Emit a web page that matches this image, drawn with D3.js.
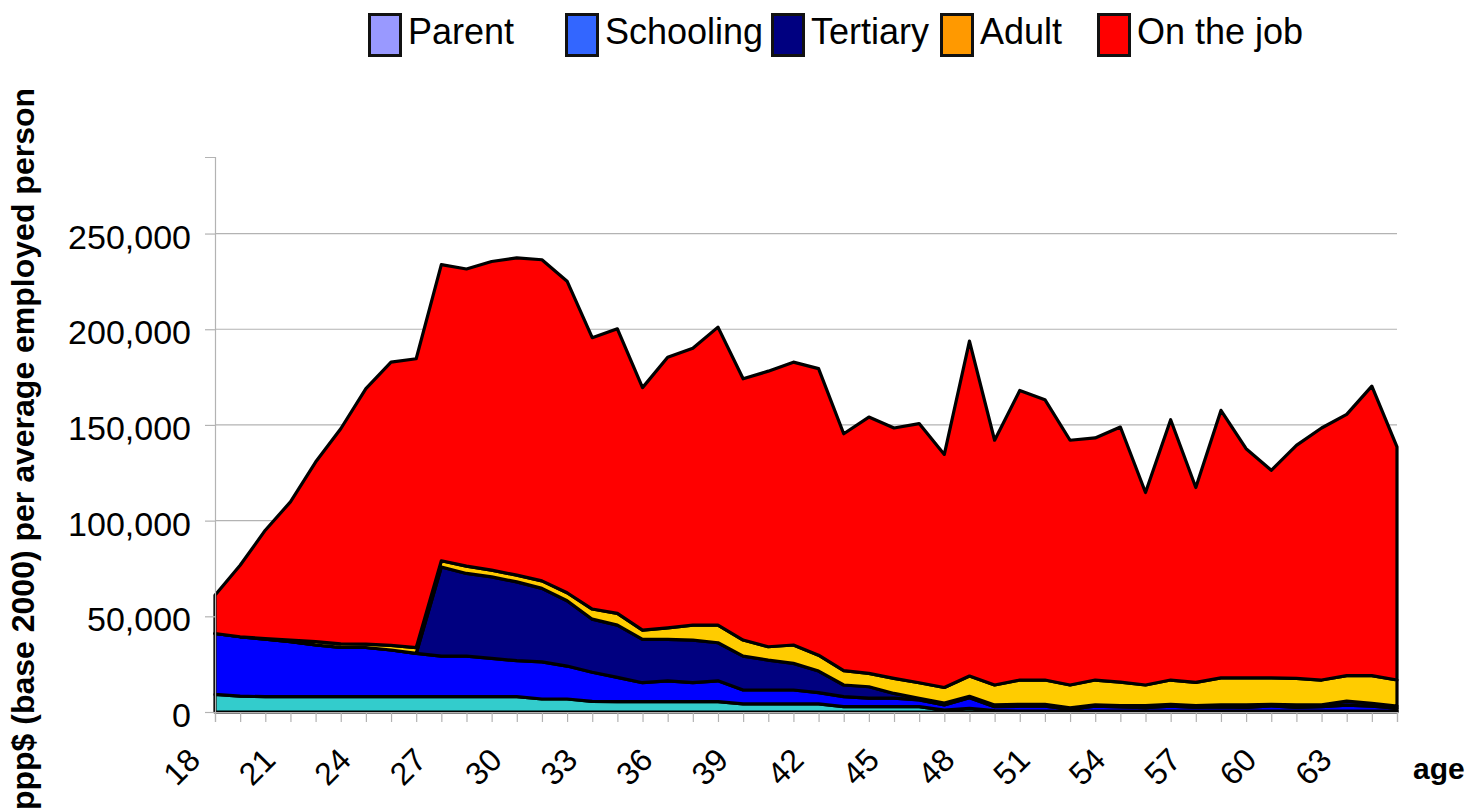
<!DOCTYPE html>
<html>
<head>
<meta charset="utf-8">
<script src="https://cdn.jsdelivr.net/npm/d3@7"></script>
<style>
  html, body { margin: 0; padding: 0; background: #fff; }
  svg { display: block; font-family: "Liberation Sans", Arial, sans-serif; }
</style>
</head>
<body>
<svg id="chart" width="1472" height="809"></svg>
<script>
// ---- data ----
const ages = d3.range(18, 66);
const parent = [9200, 8300, 8000, 8000, 8000, 8000, 8000, 8000, 8000, 8000, 8000, 8000, 8000, 6800, 6800, 5600,
  5400, 5400, 5400, 5400, 5400, 4200, 4200, 4200, 4200, 2800, 2800, 2800, 2800, 1000, 1900, 700,
  500, 500, 300, 500, 500, 500, 500, 500, 500, 500, 500, 500, 500, 500, 500, 500];
const schooling = [31800, 31000, 30100, 28700, 27000, 25800, 25700, 24400, 22600, 21200, 21200, 20000, 18800, 19400, 17200, 15200,
  12700, 9900, 10900, 9900, 10900, 7300, 7300, 7300, 5900, 5200, 4400, 4400, 3500, 2700, 5600, 2100,
  2500, 2500, 1200, 2500, 2100, 1800, 2500, 1900, 2100, 1900, 2700, 1900, 2300, 3100, 2500, 1500];
const tertiary = [0, 0, 0, 0, 0, 0, 0, 0, 0, 46600, 43200, 42600, 41200, 38400, 34100, 27700,
  27300, 22600, 21600, 22300, 19900, 17700, 15600, 13900, 11300, 6100, 6000, 2500, 900, 1000, 700, 900,
  1000, 1000, 700, 700, 700, 1000, 1000, 900, 1100, 1300, 800, 1300, 900, 2100, 1500, 1100];
const adult = [0, 0, 300, 900, 1800, 1800, 1800, 2400, 3000, 3200, 3800, 3500, 3500, 3900, 4200, 5300,
  6100, 4900, 6100, 7800, 9200, 8400, 7000, 9600, 8300, 7500, 7000, 7900, 8100, 8100, 10600, 10400,
  12700, 12700, 11900, 13000, 12300, 10800, 12700, 12200, 14100, 14100, 13800, 13900, 13000, 13300, 14500, 13600];
const onTheJob = [20000, 37400, 56600, 72200, 93800, 112400, 133500, 148000, 151000, 154800, 155300, 161300, 165800, 167800, 162800, 141800,
  148700, 126700, 141400, 144700, 155700, 136500, 144000, 147800, 149700, 123800, 133900, 130800, 135400, 121800, 175000, 127900,
  151300, 146500, 127900, 126500, 133300, 100600, 136000, 101800, 139800, 119800, 108500, 121700, 131700, 136500, 151300, 121800];

const seriesNames = ["Parent", "Schooling", "Tertiary", "Adult", "On the job"];
const seriesValues = [parent, schooling, tertiary, adult, onTheJob];
const fillColors = ["#33CCCC", "#0000FF", "#000080", "#FFCC00", "#FF0000"];
const legendColors = ["#9999FF", "#3366FF", "#000080", "#FF9900", "#FF0000"];
const yTicks = [0, 50000, 100000, 150000, 200000, 250000];
const xTickLabels = [18, 21, 24, 27, 30, 33, 36, 39, 42, 45, 48, 51, 54, 57, 60, 63];
const yMax = 290000;
const yTitle = "ppp$ (base 2000) per average employed person";
const xTitle = "age";

// ---- layout ----
const svg = d3.select("#chart");
const plotL = 215, plotR = 1397, plotT = 157, plotB = 712;

const x = d3.scaleLinear().domain([d3.min(ages), d3.max(ages)]).range([plotL, plotR]);
const y = d3.scaleLinear().domain([0, yMax]).range([plotB, plotT]);

const rows = ages.map((a, i) => {
  const r = { age: a };
  seriesNames.forEach((n, k) => r[n] = seriesValues[k][i]);
  return r;
});
const stacked = d3.stack().keys(seriesNames)(rows);

// gridlines
svg.append("g").selectAll("line").data(yTicks.filter(t => t > 0)).join("line")
  .attr("x1", plotL).attr("x2", plotR)
  .attr("y1", d => y(d)).attr("y2", d => y(d))
  .attr("stroke", "#b3b3b3").attr("stroke-width", 1.2);

// areas
const area = d3.area()
  .x(d => x(d.data.age))
  .y0(d => y(d[0]))
  .y1(d => y(d[1]));

svg.append("g").selectAll("path").data(stacked).join("path")
  .attr("d", area)
  .attr("fill", (d, i) => fillColors[i])
  .attr("stroke", "#000")
  .attr("stroke-width", 3.2)
  .attr("stroke-linejoin", "round");

// axes
const gx = svg.append("g").attr("transform", `translate(0,${plotB})`)
  .call(d3.axisBottom(x).tickValues(ages).tickSize(10).tickFormat(""));
gx.select(".domain").attr("stroke", "#b3b3b3").attr("stroke-width", 1.2);
gx.selectAll(".tick line").attr("stroke", "#b3b3b3").attr("stroke-width", 1.2);

const gy = svg.append("g").attr("transform", `translate(${plotL},0)`)
  .call(d3.axisLeft(y).tickValues(yTicks).tickSize(10).tickFormat(""));
gy.select(".domain").attr("stroke", "#b3b3b3").attr("stroke-width", 1.2);
gy.selectAll(".tick line").attr("stroke", "#b3b3b3").attr("stroke-width", 1.2);

// y tick labels
svg.append("g").selectAll("text").data(yTicks).join("text")
  .attr("x", 191).attr("y", d => y(d) + 15)
  .attr("text-anchor", "end")
  .attr("font-size", 34)
  .text(d => d3.format(",")(d));

// x tick labels rotated
svg.append("g").selectAll("text").data(xTickLabels).join("text")
  .attr("transform", d => `translate(${x(d) - 13},${plotB + 50}) rotate(-45)`)
  .attr("text-anchor", "end")
  .attr("font-size", 32)
  .text(d => d);

// axis titles
svg.append("text")
  .attr("x", 1413).attr("y", 779)
  .attr("font-size", 30).attr("font-weight", "bold")
  .text(xTitle);

svg.append("text")
  .attr("transform", "translate(34,449) rotate(-90)")
  .attr("text-anchor", "middle")
  .attr("font-size", 32).attr("font-weight", "bold")
  .text(yTitle);

// legend
const legendX = [368, 565, 771, 940, 1097];
const lg = svg.append("g").selectAll("g").data(seriesNames).join("g")
  .attr("transform", (d, i) => `translate(${legendX[i]},13)`);
lg.append("rect")
  .attr("x", 1.5).attr("y", 1.5).attr("width", 31).attr("height", 41)
  .attr("fill", (d, i) => legendColors[i])
  .attr("stroke", "#111").attr("stroke-width", 3);
lg.append("text")
  .attr("x", 40).attr("y", 31)
  .attr("font-size", 36)
  .text(d => d);
</script>
</body>
</html>
